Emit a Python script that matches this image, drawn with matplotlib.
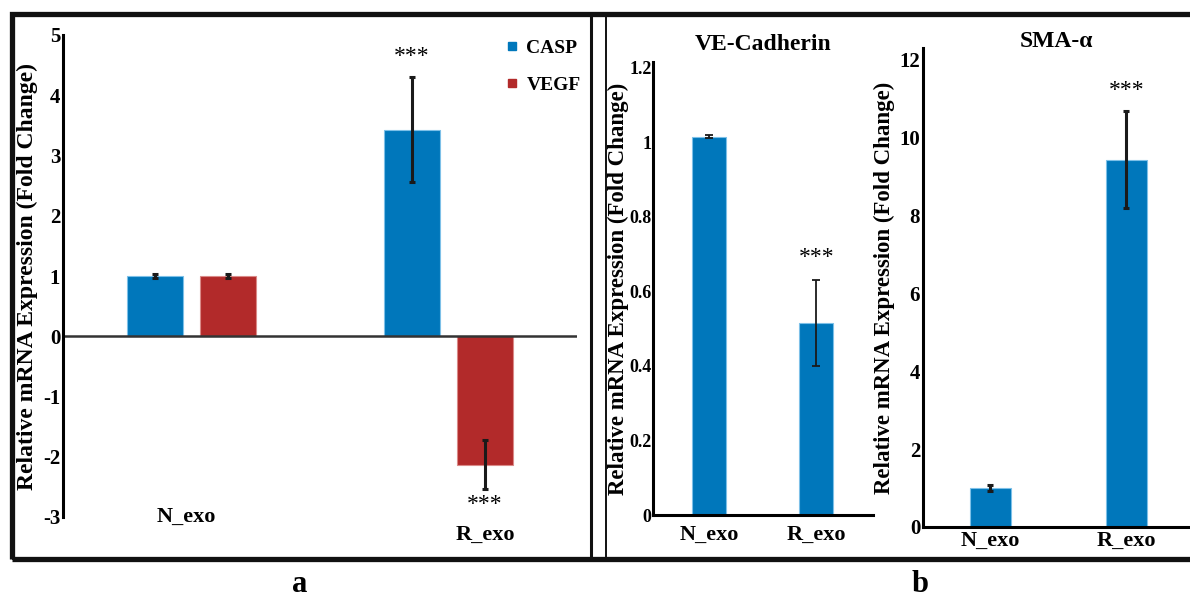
import numpy as np
import matplotlib
matplotlib.use("Agg")
from matplotlib import pyplot as plt
from matplotlib.lines import Line2D
from matplotlib.patches import Rectangle

plt.rcParams["font.family"] = ["Liberation Serif", "DejaVu Serif"]
plt.rcParams["font.weight"] = "bold"
plt.rcParams["axes.unicode_minus"] = False

# panel a: CASP / VEGF
groups = ["N_exo", "R_exo"]
casp = [1.0, 3.43]
casp_err = [0.03, 0.87]
vegf = [1.0, -2.13]
vegf_err = [0.03, 0.41]

# panel b: VE-Cadherin and SMA-alpha
ve_cad = [1.015, 0.515]
ve_cad_err = [0.005, 0.115]
sma = [1.0, 9.43]
sma_err = [0.07, 1.25]

BLUE = "#0077BB"
RED = "#B22A2A"
W, H = 1190, 600


def box(x0, y0, x1, y1):
    # pixel box (top-left origin) -> figure fraction rect
    return [x0 / W, 1 - y1 / H, (x1 - x0) / W, (y1 - y0) / H]


def fx(x):
    return x / W


def fy(y):
    return 1 - y / H


def style_axes(ax, bottom=True, tick_size=15):
    for side in ["top", "right"]:
        ax.spines[side].set_visible(False)
    ax.spines["left"].set_linewidth(2.2)
    ax.spines["bottom"].set_visible(bottom)
    ax.spines["bottom"].set_linewidth(2.2)
    ax.tick_params(length=0, labelsize=tick_size, pad=2)
    for lab in ax.get_yticklabels() + ax.get_xticklabels():
        lab.set_fontweight("bold")


def ylabel(ax, xpos, size=16.5):
    ax.set_ylabel("Relative mRNA Expression (Fold Change)", fontsize=size,
                  fontweight="bold")
    ax.yaxis.set_label_coords(xpos, 0.5)
    ax.yaxis.label.set_verticalalignment("center")


fig = plt.figure(figsize=(11.9, 6), dpi=100)

# ---- panel a ----
ax = fig.add_axes(box(63, 35, 577, 517))
x = np.arange(len(groups))
off, bw = 0.142, 0.218
ax.bar(x - off, casp, bw, color=BLUE, edgecolor="#7DC0E8", linewidth=0.8)
ax.bar(x + off, vegf, bw, color=RED, edgecolor="#DA8A88", linewidth=0.8)
ax.errorbar(x - off, casp, yerr=casp_err, fmt="none", ecolor="#1a1a1a",
            elinewidth=2.2, capsize=2, capthick=2.2)
ax.errorbar(x + off, vegf, yerr=vegf_err, fmt="none", ecolor="#1a1a1a",
            elinewidth=2.2, capsize=2, capthick=2.2)
ax.axhline(0, color="#333333", lw=1.8)
ax.set_xlim(-0.5, 1.5)
ax.set_ylim(-3, 5)
ax.set_yticks(range(-3, 6))
ax.set_xticks([])
style_axes(ax, bottom=False, tick_size=15)
ylabel(ax, -0.07, size=17)
ax.text(x[1] - off, 4.65, "***", ha="center", va="center", fontsize=17,
        fontweight="normal")
ax.text(x[1] + off, -2.8, "***", ha="center", va="center", fontsize=17,
        fontweight="normal")
ax.text(x[0] - 0.02, -3.0, groups[0], ha="center", va="center", fontsize=16,
        clip_on=False)
ax.text(x[1] + off, -3.3, groups[1], ha="center", va="center", fontsize=16,
        clip_on=False)
handles = [Line2D([], [], marker="s", ls="none", color=BLUE, markersize=6),
           Line2D([], [], marker="s", ls="none", color=RED, markersize=6)]
fig.legend(handles, ["CASP", "VEGF"], loc="upper left",
           bbox_to_anchor=(fx(504), fy(39)), frameon=False, fontsize=14,
           handlelength=0.8, handletextpad=0.35, labelspacing=1.0,
           borderpad=0, borderaxespad=0)

# ---- panel b: VE-Cadherin ----
ax1 = fig.add_axes(box(653, 62, 873, 515))
xb = np.arange(len(groups))
ax1.bar(xb, ve_cad, 0.316, color=BLUE, edgecolor="#7DC0E8", linewidth=0.8)
ax1.errorbar(xb, ve_cad, yerr=ve_cad_err, fmt="none", ecolor="#1a1a1a",
             elinewidth=1.3, capsize=3, capthick=1.3)
ax1.set_xlim(-0.52, 1.526)
ax1.set_ylim(0, 1.215)
ax1.set_yticks([0, 0.2, 0.4, 0.6, 0.8, 1.0, 1.2])
ax1.set_yticklabels(["0", "0.2", "0.4", "0.6", "0.8", "1", "1.2"])
ax1.set_xticks(xb)
ax1.set_xticklabels(groups)
style_axes(ax1, tick_size=13)
ax1.tick_params(axis="y", pad=1)
ax1.tick_params(axis="x", labelsize=16, pad=7)
ax1.set_title("VE-Cadherin", fontsize=17, fontweight="bold", pad=9)
ylabel(ax1, (618 - 653) / 220)
ax1.text(xb[1], 0.69, "***", ha="center", va="center", fontsize=17,
         fontweight="normal")

# ---- panel b: SMA-alpha ----
ax2 = fig.add_axes(box(923, 48, 1190, 527))
ax2.bar(xb, sma, 0.30, color=BLUE, edgecolor="#7DC0E8", linewidth=0.8)
ax2.errorbar(xb, sma, yerr=sma_err, fmt="none", ecolor="#1a1a1a",
             elinewidth=2.2, capsize=2, capthick=2.2)
ax2.set_xlim(-0.496, 1.467)
ax2.set_ylim(0, 12.3)
ax2.set_yticks(range(0, 13, 2))
ax2.set_xticks(xb)
ax2.set_xticklabels(groups)
style_axes(ax2, tick_size=15)
ax2.tick_params(axis="x", labelsize=16, pad=3)
ax2.set_title("SMA-α", fontsize=17, fontweight="bold", y=1.0, pad=1)
ylabel(ax2, (884 - 923) / 267)
ax2.text(xb[1], 11.2, "***", ha="center", va="center", fontsize=17,
         fontweight="normal")

# ---- frames ----
fig.add_artist(Rectangle((fx(11.5), fy(558.5)), fx(1200), fy(13.5) - fy(558.5),
                         transform=fig.transFigure, fill=False,
                         edgecolor="#111111", linewidth=3.8))
fig.add_artist(Line2D([fx(590.5), fx(590.5)], [fy(14), fy(558)],
                      transform=fig.transFigure, color="#111111", lw=2.2))
fig.add_artist(Line2D([fx(606), fx(606)], [fy(14), fy(558)],
                      transform=fig.transFigure, color="#111111", lw=1.4))

fig.text(fx(300), fy(585), "a", ha="center", va="center", fontsize=22,
         fontweight="bold")
fig.text(fx(920), fy(585), "b", ha="center", va="center", fontsize=22,
         fontweight="bold")

fig.savefig("out.png", dpi=100)
